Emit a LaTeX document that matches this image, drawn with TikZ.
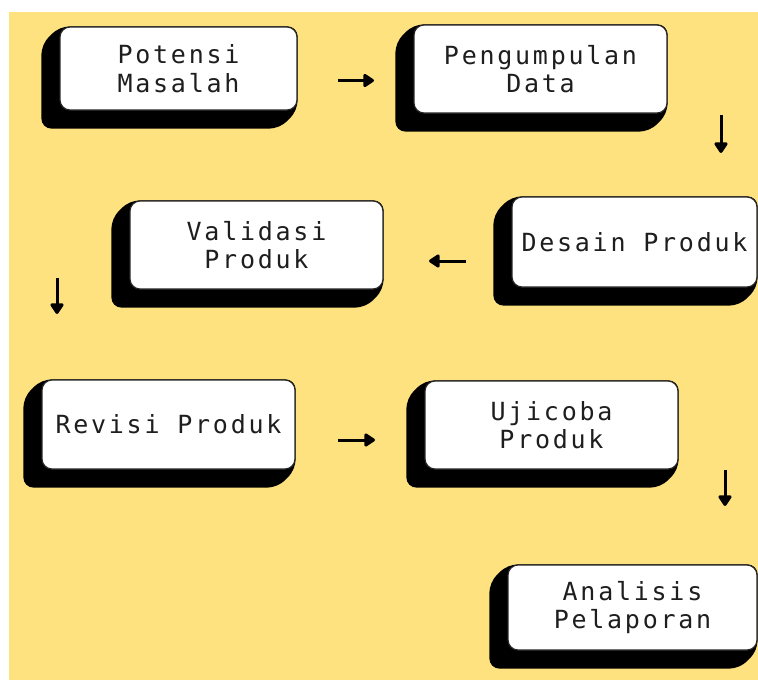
\documentclass[tikz,border=0pt]{standalone}
\usepackage{fontspec}
\usepackage{xcolor}
\usepackage{tikz}
\usetikzlibrary{arrows.meta, positioning, calc}

\newfontfamily\boxfont[LetterSpace=11]{DejaVu Sans Mono}
\definecolor{pageyellow}{RGB}{255,226,128}
\definecolor{inkgray}{RGB}{30,30,30}

\pgfdeclarelayer{back}
\pgfdeclarelayer{shade}
\pgfsetlayers{back,shade,main}

\begin{document}
\begin{tikzpicture}[
    x=1pt, y=-1pt,
    stepbox/.style={draw=black!85, line width=1.2pt, rounded corners=10pt, fill=white,
                    minimum width=253pt, minimum height=88pt, inner sep=2pt,
                    align=center, text=inkgray,
                    font=\boxfont\fontsize{25pt}{28.5pt}\selectfont},
    arrow/.style={-{Triangle[length=12pt, width=15pt, round]}, line width=3pt},
]
    \useasboundingbox (0,0) rectangle (758,680);
    \begin{pgfonlayer}{back}
        \fill[white] (0,0) rectangle (758,680);
        \fill[pageyellow] (9,12) rectangle (758,680);
    \end{pgfonlayer}

    \node[stepbox, minimum width=237pt, minimum height=83pt] (potensi) at (178.5,68.5) {Potensi\\Masalah};
    \node[stepbox] (pengumpulan) at (540.5,69) {Pengumpulan\\Data};
    \node[stepbox, minimum width=245pt, minimum height=90pt] (desain) at (634.5,242) {Desain Produk};
    \node[stepbox] (validasi) at (256.5,245) {Validasi\\Produk};
    \node[stepbox, minimum height=89pt] (revisi) at (168.5,424.5) {Revisi Produk};
    \node[stepbox] (ujicoba) at (551.5,425) {Ujicoba\\Produk};
    \node[stepbox, minimum width=249pt, minimum height=85pt] (analisis) at (632.5,607.5) {Analisis\\Pelaporan};

    % extruded black shadow behind each box
    \begin{pgfonlayer}{shade}
        \foreach \n in {potensi,pengumpulan,desain,validasi,revisi,ujicoba,analisis}
            \fill[black, rounded corners=10pt]
                (\n.north west) -- (\n.north east) -- (\n.south east)
                -- ($(\n.south east)+(-18pt,-18pt)$)
                -- ($(\n.south west)+(-18pt,-18pt)$)
                -- ($(\n.north west)+(-18pt,-18pt)$) -- cycle;
    \end{pgfonlayer}

    \coordinate (a1s) at (338,80.5);  \coordinate (a1e) at (374,80.5);
    \coordinate (a2s) at (721,115);   \coordinate (a2e) at (721,153);
    \coordinate (a3s) at (466,261);   \coordinate (a3e) at (429,261);
    \coordinate (a4s) at (57,278);    \coordinate (a4e) at (57,314);
    \coordinate (a5s) at (338,440);   \coordinate (a5e) at (375,440);
    \coordinate (a6s) at (725,470);   \coordinate (a6e) at (725,506);

    \draw[arrow] (a1s) -- (a1e);
    \draw[arrow] (a2s) -- (a2e);
    \draw[arrow] (a3s) -- (a3e);
    \draw[arrow] (a4s) -- (a4e);
    \draw[arrow] (a5s) -- (a5e);
    \draw[arrow] (a6s) -- (a6e);
\end{tikzpicture}
\end{document}
